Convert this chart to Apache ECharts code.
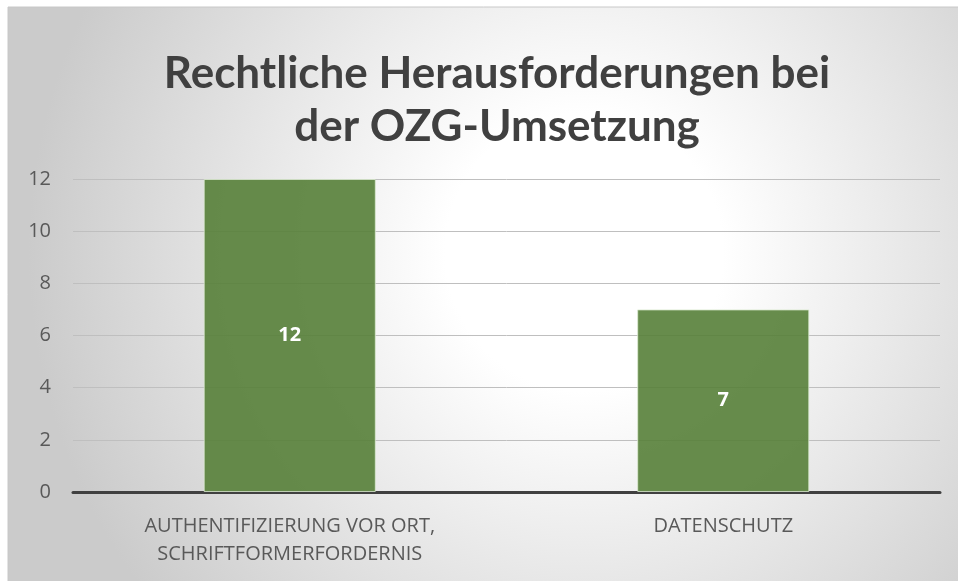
<!DOCTYPE html>
<html>
<head>
<meta charset="utf-8">
<script src="https://cdn.jsdelivr.net/npm/echarts@6/dist/echarts.min.js"></script>
<style>
html,body{margin:0;padding:0;background:#ffffff;}
#chart{width:958px;height:581px;}
</style>
</head>
<body>
<div id="chart"></div>
<script>
var titleLines = ['Rechtliche Herausforderungen bei', 'der OZG-Umsetzung'];
var categories = ['AUTHENTIFIZIERUNG VOR ORT,\nSCHRIFTFORMERFORDERNIS', 'DATENSCHUTZ'];
var values = [12, 7];
var yTicks = {min: 0, max: 12, interval: 2};

var chart = echarts.init(document.getElementById('chart'), null, {renderer: 'canvas'});
chart.setOption({
  animation: false,
  graphic: [{
    type: 'rect', z: -10, silent: true,
    shape: {x: 8, y: 7, width: 960, height: 584},
    style: {
      fill: new echarts.graphic.RadialGradient(0.6, 0.42, 0.95, [
        {offset: 0, color: '#ffffff'},
        {offset: 0.25, color: '#ffffff'},
        {offset: 1, color: '#cbcbcb'}
      ]),
      stroke: '#c8c8c8', lineWidth: 1
    }
  }],
  title: {
    text: titleLines.join('\n'),
    left: 492,
    textAlign: 'center',
    top: 42,
    textStyle: {
      fontFamily: 'Lato', fontWeight: 'bold', fontSize: 44,
      color: '#404040', lineHeight: 53
    }
  },
  grid: {left: 73, right: 18, top: 179, bottom: 89, containLabel: false},
  xAxis: {
    type: 'category',
    data: categories,
    axisLine: {show: true, lineStyle: {color: '#404040', width: 3}},
    axisTick: {show: false},
    axisLabel: {
      color: '#595959', fontSize: 20, fontFamily: 'Open Sans',
      margin: 20, lineHeight: 28, interval: 0
    }
  },
  yAxis: {
    type: 'value',
    min: yTicks.min, max: yTicks.max, interval: yTicks.interval,
    axisLine: {show: false},
    axisTick: {show: false},
    axisLabel: {color: '#595959', fontSize: 20, fontFamily: 'Open Sans', margin: 22},
    splitLine: {lineStyle: {color: '#bfbfbf', width: 1}}
  },
  series: [{
    type: 'bar',
    data: values,
    barWidth: '39.7%',
    itemStyle: {color: 'rgba(86,128,56,0.9)', borderColor: 'rgba(220,235,210,0.8)', borderWidth: 1},
    label: {
      show: true, position: 'inside',
      color: '#ffffff', fontWeight: 'bold', fontSize: 20, fontFamily: 'Open Sans'
    }
  }]
});
</script>
</body>
</html>
